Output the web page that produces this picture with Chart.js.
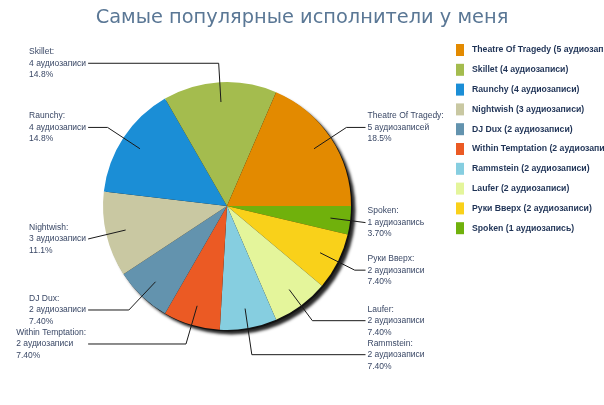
<!DOCTYPE html>
<html>
<head>
<meta charset="utf-8">
<script src="https://cdn.jsdelivr.net/npm/chart.js@4.4.1/dist/chart.umd.min.js"></script>
<style>
  html, body { margin: 0; padding: 0; background: #ffffff; }
  #wrap { width: 604px; height: 405px; position: relative; }
</style>
</head>
<body>
<div id="wrap"><canvas id="c" width="604" height="405"></canvas></div>
<script>
// ---- data (legend order) ----
const titleText = 'Самые популярные исполнители у меня';
const artists = ['Theatre Of Tragedy', 'Skillet', 'Raunchy', 'Nightwish', 'DJ Dux',
                 'Within Temptation', 'Rammstein', 'Laufer', 'Руки Вверх', 'Spoken'];
const counts = [5, 4, 4, 3, 2, 2, 2, 2, 2, 1];
const countLabels = ['5 аудиозаписей', '4 аудиозаписи', '4 аудиозаписи', '3 аудиозаписи', '2 аудиозаписи',
                     '2 аудиозаписи', '2 аудиозаписи', '2 аудиозаписи', '2 аудиозаписи', '1 аудиозапись'];
const percentLabels = ['18.5%', '14.8%', '14.8%', '11.1%', '7.40%', '7.40%', '7.40%', '7.40%', '7.40%', '3.70%'];
const colors = ['#E38A00', '#A4BC4E', '#1B8ED6', '#C9C8A2', '#6393AE',
                '#EB5A24', '#86CEE0', '#E4F59B', '#F9D11A', '#70B10C'];

// slices run counter-clockwise from 3 o'clock in the reference; Chart.js draws clockwise,
// so feed the dataset in reverse order.
const rev = a => a.slice().reverse();

const shadowPlugin = {
  id: 'pieShadow',
  beforeDatasetsDraw(chart) {
    const arc = chart.getDatasetMeta(0).data[0];
    if (!arc) return;
    const ctx = chart.ctx;
    ctx.save();
    ctx.shadowColor = 'rgba(0,0,0,0.85)';
    ctx.shadowBlur = 3;
    ctx.shadowOffsetX = 3;
    ctx.shadowOffsetY = 3;
    ctx.fillStyle = '#111';
    ctx.beginPath();
    ctx.arc(arc.x + 1.5, arc.y + 1.5, arc.outerRadius, 0, Math.PI * 2);
    ctx.fill();
    ctx.restore();
  }
};

const calloutPlugin = {
  id: 'callouts',
  afterDatasetsDraw(chart) {
    const meta = chart.getDatasetMeta(0);
    const ctx = chart.ctx;
    const n = meta.data.length;
    const cx = meta.data[0].x, cy = meta.data[0].y, r = meta.data[0].outerRadius;
    const lbls = chart.data.labels;
    const items = [];
    for (let i = 0; i < n; i++) {
      const a = meta.data[i];
      const mid = (a.startAngle + a.endAngle) / 2;
      const dx = Math.cos(mid), dy = Math.sin(mid);
      const right = dx >= 0;
      const oi = n - 1 - i; // index in legend-order arrays
      items.push({
        right,
        ax: cx + dx * r * 0.84, ay: cy + dy * r * 0.84,
        ex: cx + dx * r * 1.153, ey: cy + dy * r * 1.153,
        lines: [lbls[i] + ':', countLabels[oi], percentLabels[oi]]
      });
    }
    // simple vertical collision avoidance on each side
    const minGap = 34;
    [true, false].forEach(side => {
      const s = items.filter(it => it.right === side).sort((p, q) => p.ey - q.ey);
      for (let k = 0; k < s.length; k++) {
        s[k].ly = s[k].ey;
        if (k > 0 && s[k].ly - s[k - 1].ly < minGap) s[k].ly = s[k - 1].ly + minGap;
      }
    });
    ctx.save();
    ctx.font = '8.5px "Liberation Sans", Arial, sans-serif';
    ctx.textBaseline = 'middle';
    ctx.strokeStyle = '#1a1a1a';
    ctx.lineWidth = 1;
    const lh = 11.5;
    items.forEach(it => {
      const lineEnd = it.right ? cx + r * 1.117 : cx - r * 1.12;
      let ex = it.ex;
      if (it.right && ex > lineEnd - 1) ex = lineEnd;
      if (!it.right && ex < lineEnd + 1) ex = lineEnd;
      ctx.beginPath();
      ctx.moveTo(it.ax, it.ay);
      ctx.lineTo(ex, it.ly);
      ctx.lineTo(lineEnd, it.ly);
      ctx.stroke();
      ctx.fillStyle = '#3a4866';
      const w = Math.max(...it.lines.map(t => ctx.measureText(t).width));
      const tx = it.right ? lineEnd + 2 : lineEnd - 2 - w;
      ctx.textAlign = 'left';
      it.lines.forEach((t, j) => ctx.fillText(t, tx, it.ly + (j - 1) * lh));
    });
    ctx.restore();
  }
};

const legendTitlePlugin = {
  id: 'sideLegendAndTitle',
  afterDraw(chart) {
    const ctx = chart.ctx;
    const ds = chart.data.datasets[0];
    const n = chart.data.labels.length;
    ctx.save();
    // title across the full canvas width
    let fs = 20;
    ctx.font = fs + 'px "DejaVu Sans", Verdana, sans-serif';
    const tw = ctx.measureText(titleText).width;
    fs = fs * 413 / tw;
    ctx.font = fs.toFixed(2) + 'px "DejaVu Sans", Verdana, sans-serif';
    ctx.fillStyle = '#5a7795';
    ctx.textAlign = 'center';
    ctx.textBaseline = 'middle';
    ctx.fillText(titleText, chart.width / 2, 18);
    // legend
    ctx.font = 'bold 8.7px "Liberation Sans", Arial, sans-serif';
    ctx.textAlign = 'left';
    for (let k = 0; k < n; k++) {
      const i = n - 1 - k; // legend in original order
      const y = 50 + k * 19.8;
      ctx.fillStyle = ds.backgroundColor[i];
      ctx.fillRect(456, y - 6, 8, 12);
      ctx.fillStyle = '#1f3356';
      ctx.fillText(chart.data.labels[i] + ' (' + countLabels[k] + ')', 472, y);
    }
    ctx.restore();
  }
};

new Chart(document.getElementById('c'), {
  type: 'pie',
  data: {
    labels: rev(artists),
    datasets: [{
      data: rev(counts),
      backgroundColor: rev(colors),
      borderWidth: 0,
      hoverOffset: 0,
      clip: false
    }]
  },
  options: {
    responsive: false,
    animation: false,
    rotation: 90,
    layout: { padding: { left: 103, right: 253, top: 37, bottom: 30 } },
    plugins: {
      legend: { display: false },
      tooltip: { enabled: false },
      title: { display: false }
    }
  },
  plugins: [shadowPlugin, calloutPlugin, legendTitlePlugin]
});
</script>
</body>
</html>
